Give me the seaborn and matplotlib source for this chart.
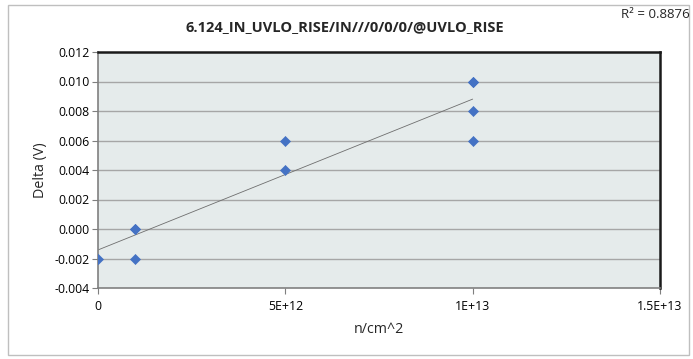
import matplotlib
matplotlib.use("Agg")
import matplotlib.pyplot as plt
import seaborn as sns
import numpy as np
import pandas as pd
from matplotlib.patches import Rectangle

# Data
fluence = [0, 1e12, 1e12, 1e12, 5e12, 5e12, 1e13, 1e13, 1e13, 1e13]
delta_v = [-0.002, 0.000, -0.002, 0.000, 0.006, 0.004, 0.010, 0.008, 0.006, 0.010]
x_ticks = [0, 5e12, 1e13, 1.5e13]
x_tick_labels = ["0", "5E+12", "1E+13", "1.5E+13"]
y_ticks = [-0.004, -0.002, 0.000, 0.002, 0.004, 0.006, 0.008, 0.010, 0.012]
title = "6.124_IN_UVLO_RISE/IN///0/0/0/@UVLO_RISE"
r2_text = "R² = 0.8876"

df = pd.DataFrame({"fluence": fluence, "delta": delta_v})

sns.set_theme(style="white")
plt.rcParams['font.family'] = ['Open Sans', 'DejaVu Sans']

fig = plt.figure(figsize=(6.93, 3.59), dpi=100)
ax = fig.add_axes([98/693, 1-288/359, (660-98)/693, (288-52)/359])
ax.set_facecolor("#E5EBEB")

# outer border
fig.patches.append(Rectangle((8/693, 4/359), (689-8)/693, (354-4)/359,
                             transform=fig.transFigure, fill=False,
                             edgecolor="#BFBFBF", linewidth=1.0))

sns.regplot(data=df, x="fluence", y="delta", ax=ax, scatter=False, ci=None,
            truncate=True, line_kws=dict(color="#6E6E6E", linewidth=0.6))
sns.scatterplot(data=df, x="fluence", y="delta", ax=ax, marker="D", s=26,
                color="#4472C4", edgecolor="#4472C4", linewidth=0.5, zorder=5)

ax.set_xlim(0, 1.5e13)
ax.set_ylim(-0.004, 0.012)
ax.set_xticks(x_ticks)
ax.set_xticklabels(x_tick_labels)
ax.set_yticks(y_ticks)
ax.set_yticklabels([f"{v:.3f}" for v in y_ticks])
for v in y_ticks[1:-1]:
    ax.axhline(v, color="#A6A6A6", linewidth=1.0, zorder=1)

ax.tick_params(axis="both", which="both", direction="out", length=4, width=0.8,
               color="#7F7F7F", labelsize=8.8, labelcolor="#000000", pad=2,
               left=True, bottom=True)
ax.tick_params(axis="x", pad=5)

for side in ["left", "bottom"]:
    ax.spines[side].set_color("#808080")
    ax.spines[side].set_linewidth(1.2)
for side in ["top", "right"]:
    ax.spines[side].set_visible(True)
    ax.spines[side].set_color("#1A1A1A")
    ax.spines[side].set_linewidth(1.8)

ax.set_xlabel("n/cm^2", fontsize=10.3, labelpad=6)
ax.set_ylabel("Delta (V)", fontsize=10.3, labelpad=5)
fig.text(345/693, 1-27/359, title, ha="center", va="center", fontsize=10.5,
         fontweight="bold")
fig.text(690/693, 1-14/359, r2_text, ha="right", va="center", fontsize=9.5)

fig.savefig("out.png", dpi=100)
